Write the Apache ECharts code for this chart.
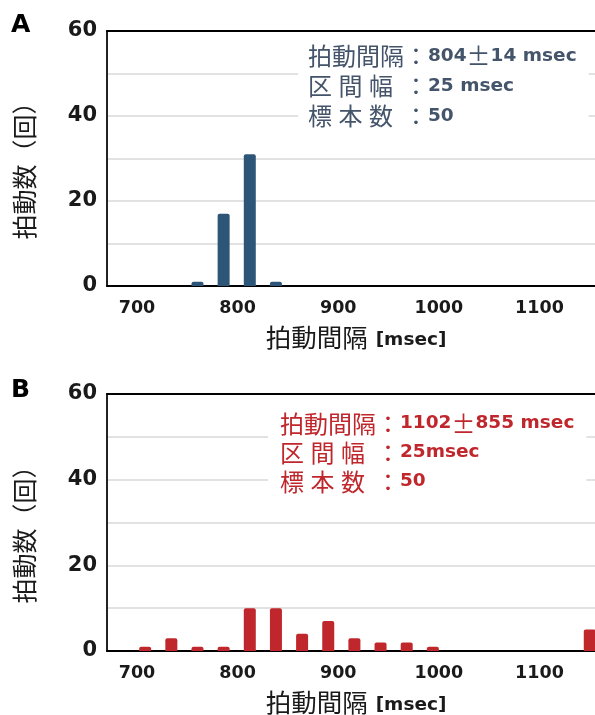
<!DOCTYPE html>
<html>
<head>
<meta charset="utf-8">
<script src="https://cdn.jsdelivr.net/npm/echarts@6/dist/echarts.min.js"></script>
<style>
  html, body { margin: 0; padding: 0; background: #fff; }
  #chart { width: 595px; height: 715px; }
</style>
</head>
<body>
<div id="chart"></div>
<script>
// histogram bins (25 msec wide), shown by their centres
var binCenters = [712.5, 737.5, 762.5, 787.5, 812.5, 837.5, 862.5, 887.5, 912.5, 937.5, 962.5, 987.5, 1137.5];
var countsA = [0, 0, 1, 17, 31, 1, 0, 0, 0, 0, 0, 0, 0];
var countsB = [1, 3, 1, 1, 10, 10, 4, 7, 3, 2, 2, 1, 5];
var xTickLabels = [700, 800, 900, 1000, 1100];
var yLabelValues = [0, 20, 40, 60];

var blueA = '#2d5578';
var redB = '#c0272d';
var textA = '#44546a';
var textB = '#c0272d';
var ink = '#1a1a1a';
var cjk = '"Noto Sans CJK JP", "Noto Sans CJK SC", sans-serif';
var latin = '"DejaVu Sans", sans-serif';

function pairs(counts) {
  var out = [];
  binCenters.forEach(function (c, i) {
    if (counts[i] > 0) out.push([c, counts[i]]);
  });
  return out;
}

function labelAxis(g) {
  return {
    gridIndex: g, type: 'value', position: 'bottom',
    min: 670.2, max: 1155.2,
    axisLine: { show: true, onZero: false, lineStyle: { color: '#000', width: 2 } },
    axisTick: { show: false },
    splitLine: { show: false },
    axisLabel: {
      customValues: xTickLabels,
      formatter: function (v) { return String(v); },
      color: ink, fontFamily: latin, fontWeight: 'bold', fontSize: 17.5, margin: 13
    },
    name: '{a|拍動間隔}{b|[msec]}',
    nameLocation: 'middle',
    nameGap: 34,
    nameTextStyle: {
      padding: [0, 0, 0, 10],
      rich: {
        a: { fontFamily: cjk, fontSize: 25.5, color: ink, lineHeight: 30, verticalAlign: 'bottom' },
        b: { fontFamily: latin, fontWeight: 'bold', fontSize: 18.5, color: ink, lineHeight: 30,
             verticalAlign: 'bottom', padding: [6, 0, 0, 8] }
      }
    }
  };
}

function barAxis(g) {
  return {
    gridIndex: g, type: 'value', position: 'top',
    min: 676, max: 1142.5,
    axisLine: { show: true, onZero: false, lineStyle: { color: '#000', width: 2 } },
    axisTick: { show: false },
    axisLabel: { show: false },
    splitLine: { show: false }
  };
}

function countAxis(g) {
  return {
    gridIndex: g, type: 'value', min: 0, max: 60, interval: 10,
    axisLine: { show: true, lineStyle: { color: '#222', width: 2 } },
    axisTick: { show: false },
    splitLine: { lineStyle: { color: '#d9d9d9', width: 1.5 } },
    axisLabel: {
      color: ink, fontFamily: latin, fontWeight: 'bold', fontSize: 21, margin: 10,
      formatter: function (v) { return yLabelValues.indexOf(v) >= 0 ? String(v) : ''; }
    },
    name: '拍動数（回）',
    nameLocation: 'middle',
    nameGap: 70,
    nameTextStyle: { fontFamily: cjk, fontSize: 25, color: ink, padding: [0, 12, 0, 0] }
  };
}

function statsRich(color, lh) {
  var base = { fontFamily: cjk, fontWeight: 'normal', fontSize: 24, color: color, lineHeight: lh };
  return {
    k: base,
    w: Object.assign({}, base, { width: 30.5 }),
    w3: Object.assign({}, base, { width: 35 }),
    n: { fontFamily: latin, fontWeight: 'bold', fontSize: 18.5, color: color, lineHeight: lh }
  };
}

var chart = echarts.init(document.getElementById('chart'), null, { renderer: 'canvas' });
chart.setOption({
  animation: false,
  backgroundColor: '#fff',
  grid: [
    { left: 107, top: 31, right: 0, height: 255, outerBoundsMode: 'none', containLabel: false },
    { left: 107, top: 394, right: 0, height: 257, outerBoundsMode: 'none', containLabel: false }
  ],
  xAxis: [labelAxis(0), barAxis(0), labelAxis(1), barAxis(1)],
  yAxis: [countAxis(0), countAxis(1)],
  title: [
    {
      left: 298, top: 37,
      backgroundColor: '#fff',
      padding: [4, 12, 4, 10],
      text: '{k|拍動間隔：}{n|804}{k|±}{n|14 msec}\n{w|区}{w|間}{w3|幅}{k|：}{n|25 msec}\n{w|標}{w|本}{w3|数}{k|：}{n|50}',
      textStyle: { fontWeight: 'normal', rich: statsRich(textA, 30) }
    },
    {
      left: 268, top: 404,
      backgroundColor: '#fff',
      padding: [5, 12, 5, 12],
      text: '{k|拍動間隔：}{n|1102}{k|±}{n|855 msec}\n{w|区}{w|間}{w3|幅}{k|：}{n|25msec}\n{w|標}{w|本}{w3|数}{k|：}{n|50}',
      textStyle: { fontWeight: 'normal', rich: statsRich(textB, 29) }
    }
  ],
  graphic: [
    { type: 'text', left: 11, top: 13, style: { text: 'A', font: 'bold 25px "DejaVu Sans"', fill: '#000' } },
    { type: 'text', left: 11, top: 378, style: { text: 'B', font: 'bold 25px "DejaVu Sans"', fill: '#000' } }
  ],
  series: [
    {
      type: 'bar', xAxisIndex: 1, yAxisIndex: 0,
      data: pairs(countsA),
      barWidth: 12,
      itemStyle: { color: blueA, borderRadius: [2, 2, 0, 0] }
    },
    {
      type: 'bar', xAxisIndex: 3, yAxisIndex: 1,
      data: pairs(countsB),
      barWidth: 12,
      itemStyle: { color: redB, borderRadius: [2, 2, 0, 0] }
    }
  ]
});
</script>
</body>
</html>
